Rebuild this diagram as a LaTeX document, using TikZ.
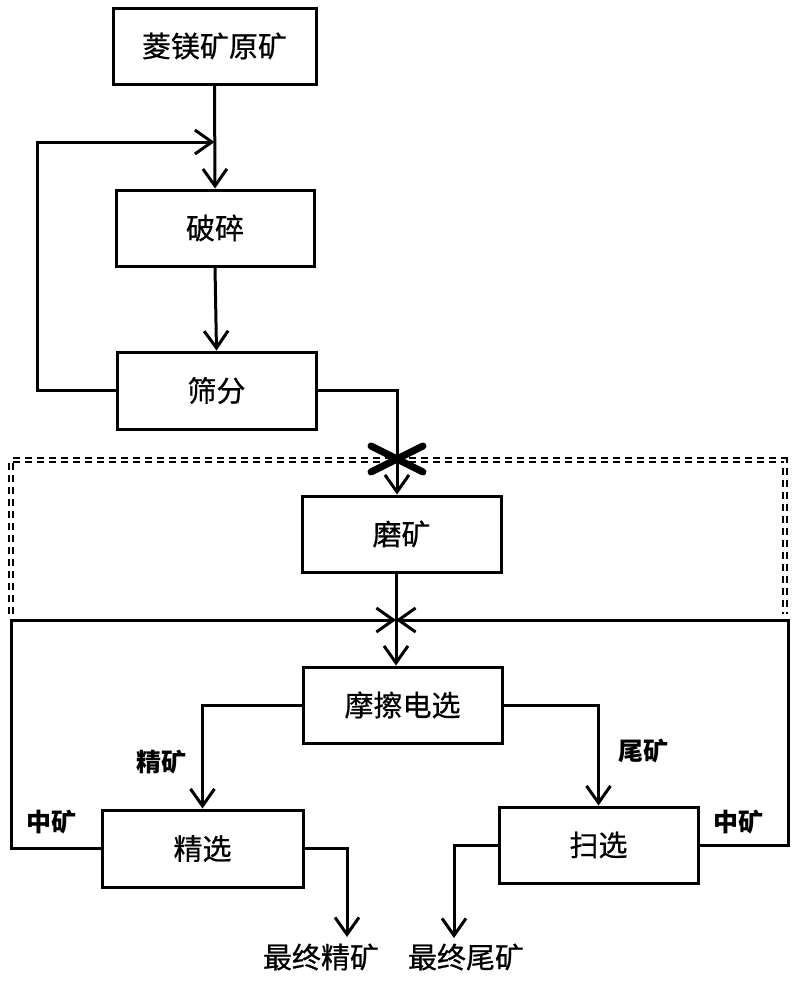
\documentclass[tikz,border=0pt]{standalone}
\usepackage{fontspec}
\newfontfamily\cjk[FakeBold=0.6]{Noto Sans CJK SC}
\newfontfamily\cjkb{Noto Sans CJK SC}
\usetikzlibrary{arrows.meta}
\begin{document}
\begin{tikzpicture}[x=1pt,y=-1pt,
  box/.style={draw,line width=3pt,rectangle,inner sep=0pt,minimum width=199pt,minimum height=76pt,font=\cjk\fontsize{29}{31}\selectfont},
  lbl/.style={inner sep=0pt,font=\cjkb\bfseries\fontsize{25}{27}\selectfont},
  endlbl/.style={inner sep=0pt,font=\cjk\fontsize{29}{31}\selectfont},
  conn/.style={line width=3pt},
  arr/.style={conn,-{Straight Barb[length=17pt,width=24pt,line width=3pt]}},
  bigx/.style={line width=7pt,line cap=round},
  dframe/.style={draw,line width=2pt,double distance=2pt,dash pattern=on 7pt off 5pt}]
\useasboundingbox[fill=white] (0,0) rectangle (800,983);
% boxes
\node[box,minimum width=203pt] (b1) at (214.5,46) {菱镁矿原矿};
\node[box,minimum width=198pt] (b2) at (215,228) {破碎};
\node[box,minimum height=77pt] (b3) at (216.5,390.5) {筛分};
\node[box] (b4) at (401.5,534) {磨矿};
\node[box] (b5) at (402.5,705) {摩擦电选};
\node[box,minimum width=201pt,minimum height=77pt] (b6) at (202.5,848.5) {精选};
\node[box] (b7) at (598.5,845) {扫选};
% labels
\node[lbl] (l1) at (161,762) {精矿};
\node[lbl] (l2) at (643,751) {尾矿};
\node[lbl] (l3) at (51,822) {中矿};
\node[lbl] (l4) at (738,822) {中矿};
\node[endlbl] (f1) at (321,957) {最终精矿};
\node[endlbl] (f2) at (466,957) {最终尾矿};
% coordinates
\coordinate (lp) at (37,142);
\coordinate (c1) at (397,459);
\coordinate (c2) at (396,620);
\coordinate (ll) at (11,620);
\coordinate (rr) at (788,620);
\coordinate (e1) at (347,937);
\coordinate (e2) at (454,938);
% dashed double frame
\draw[dframe] (11,614) -- (11,460) -- (785,460) -- (785,614);
% connectors
\draw[arr] (b1.south) -- (b2.north);
\draw[arr] (b3.west) -| (lp) -- (b1.south |- lp);
\draw[arr] (b2.south) -- (b3.north);
\draw[arr] (b3.east) -| (c1) -- (c1 |- b4.north);
\draw[conn] (c2 |- b4.south) -- (c2);
\draw[arr] (c2) -- (c2 |- b5.north);
\draw[arr] (b5.west) -| (b6.north);
\draw[arr] (b5.east) -| (b7.north);
\draw[arr] (b6.west) -| (ll) -- (c2);
\draw[arr] (b7.east) -| (rr) -- (c2);
\draw[arr] (b6.east) -| (e1);
\draw[arr] (b7.west) -| (e2);
% big cross
\draw[bigx] ([shift={(-26,-13)}]c1) -- ([shift={(26,13)}]c1);
\draw[bigx] ([shift={(-26,13)}]c1) -- ([shift={(26,-13)}]c1);
\end{tikzpicture}
\end{document}
